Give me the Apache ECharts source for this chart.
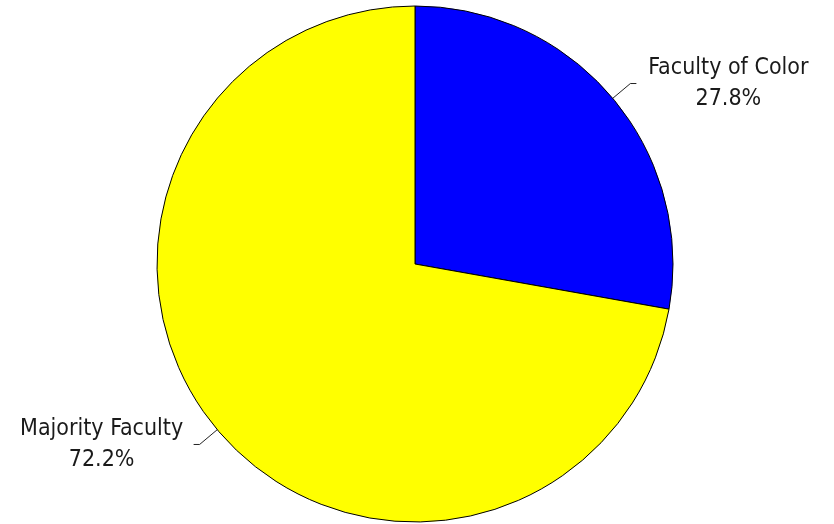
<!DOCTYPE html>
<html>
<head>
<meta charset="utf-8">
<script src="https://cdn.jsdelivr.net/npm/echarts@6/dist/echarts.min.js"></script>
<style>
html,body{margin:0;padding:0;background:#fff;}
#chart{width:834px;height:524px;}
</style>
</head>
<body>
<div id="chart"></div>
<script>
var categories = ['Faculty of Color', 'Majority Faculty'];
var values = [27.8, 72.2];
var colors = ['#0000FF', '#FFFF00'];

var chart = echarts.init(document.getElementById('chart'), null, {renderer: 'canvas'});
chart.setOption({
  animation: false,
  backgroundColor: '#ffffff',
  series: [{
    type: 'pie',
    center: [415, 264],
    radius: 258,
    startAngle: 90,
    clockwise: true,
    avoidLabelOverlap: false,
    emphasis: {disabled: true},
    data: categories.map(function (c, i) {
      return {name: c, value: values[i], itemStyle: {color: colors[i]}};
    }),
    itemStyle: {borderColor: '#000000', borderWidth: 1},
    label: {
      show: true,
      position: 'outside',
      distanceToLabelLine: 8,
      formatter: function (p) {
        return '{a|' + p.name + '}\n{a|' + p.value.toFixed(1) + '%}';
      },
      rich: {
        a: {
          width: 168,
          align: 'center',
          fontFamily: 'DejaVu Sans Condensed',
          fontSize: 23,
          lineHeight: 31,
          color: '#1a1a1a'
        }
      }
    },
    labelLine: {
      show: true,
      length: 23,
      length2: 6,
      smooth: false,
      lineStyle: {color: '#222222', width: 1}
    }
  }]
});
</script>
</body>
</html>
